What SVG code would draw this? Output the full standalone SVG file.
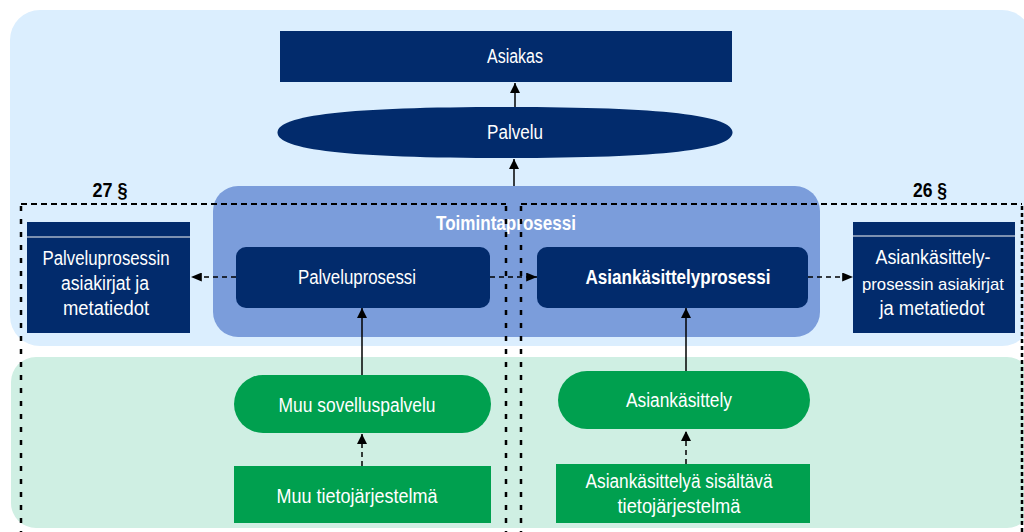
<svg xmlns="http://www.w3.org/2000/svg" width="1024" height="532" viewBox="0 0 1024 532">
  <defs>
    <marker id="arrow" viewBox="0 0 10 10" refX="10" refY="5" markerWidth="10" markerHeight="10" markerUnits="userSpaceOnUse" orient="auto">
      <path d="M0,0 L10,5 L0,10 z" fill="#000"/>
    </marker>
    <marker id="arrowWide" viewBox="0 0 12 10" refX="12" refY="5" markerWidth="12" markerHeight="9" markerUnits="userSpaceOnUse" orient="auto">
      <path d="M0,0 L12,5 L0,10 z" fill="#000"/>
    </marker>
  </defs>
  <style>
    .lbl { font-family: "Liberation Sans", Arial, sans-serif; font-size: 20px; fill: #fff; text-anchor: middle; }
    .bold { font-weight: bold; }
    .sect { font-family: "Liberation Sans", Arial, sans-serif; font-size: 20px; font-weight: bold; fill: #000; text-anchor: middle; }
    .navy { fill: #022b6c; }
    .green { fill: #00a04f; }
    .solid { stroke: #000; stroke-width: 1.5; fill: none; }
    .dash { stroke: #000; stroke-width: 1.5; fill: none; stroke-dasharray: 5 4; }
    .frameH { stroke: #000; stroke-width: 2; fill: none; stroke-dasharray: 6 4; }
    .frameV { stroke: #000; stroke-width: 2.5; fill: none; stroke-dasharray: 5 8; }
  </style>

  <!-- background bands -->
  <rect x="10" y="10" width="1022" height="336" rx="30" fill="#dbeefe"/>
  <rect x="11" y="357" width="1021" height="171" rx="25" fill="#cfefe3"/>

  <g id="toimintaprosessi">
    <rect x="213" y="186" width="607" height="151" rx="25" fill="#7b9ddb"/>
    <text class="lbl bold" x="506" y="230" textLength="140" lengthAdjust="spacingAndGlyphs">Toimintaprosessi</text>
  </g>

  <!-- legal section frames -->
  <g id="frames">
    <path class="frameH" d="M21,204 H506"/>
    <path class="frameV" d="M21,206 V532"/>
    <path class="frameV" d="M506,206 V532"/>
    <path class="frameH" d="M521,204 H1022"/>
    <path class="frameV" d="M521,206 V532"/>
    <path class="frameV" d="M1022,206 V532" style="stroke-dasharray:4 3"/>
    <text class="sect" x="110" y="197" textLength="35" lengthAdjust="spacingAndGlyphs">27 §</text>
    <text class="sect" x="930" y="197" textLength="34" lengthAdjust="spacingAndGlyphs">26 §</text>
  </g>

  <g id="asiakas">
    <rect class="navy" x="280" y="31" width="452" height="51"/>
    <text class="lbl" x="515" y="63" textLength="56" lengthAdjust="spacingAndGlyphs">Asiakas</text>
  </g>

  <g id="palvelu">
    <path class="navy" d="M277.5,132.5 C277.5,115.2 348,107 505,107 C662,107 732.5,115.2 732.5,132.5 C732.5,149.8 662,158 505,158 C348,158 277.5,149.8 277.5,132.5 Z"/>
    <text class="lbl" x="515" y="139" textLength="56" lengthAdjust="spacingAndGlyphs">Palvelu</text>
  </g>

  <g id="palveluprosessi">
    <rect class="navy" x="236" y="247" width="254" height="61" rx="10"/>
    <text class="lbl" x="357" y="284" textLength="118" lengthAdjust="spacingAndGlyphs">Palveluprosessi</text>
  </g>

  <g id="asiankasittelyprosessi">
    <rect class="navy" x="537" y="247" width="271" height="61" rx="10"/>
    <text class="lbl bold" x="678" y="284" textLength="185" lengthAdjust="spacingAndGlyphs">Asiankäsittelyprosessi</text>
  </g>

  <g id="palveluprosessin-asiakirjat">
    <rect class="navy" x="27" y="222" width="163" height="111"/>
    <line x1="27" y1="237" x2="190" y2="237" stroke="#a7b4c8" stroke-width="1.5"/>
    <text class="lbl" x="106" y="265" textLength="127" lengthAdjust="spacingAndGlyphs">Palveluprosessin</text>
    <text class="lbl" x="105" y="290" textLength="88" lengthAdjust="spacingAndGlyphs">asiakirjat ja</text>
    <text class="lbl" x="106" y="315" textLength="86" lengthAdjust="spacingAndGlyphs">metatiedot</text>
  </g>

  <g id="asiankasittelyprosessin-asiakirjat">
    <rect class="navy" x="853" y="222" width="162" height="111"/>
    <line x1="853" y1="236" x2="1015" y2="236" stroke="#a7b4c8" stroke-width="1.5"/>
    <text class="lbl" x="933" y="264" textLength="115" lengthAdjust="spacingAndGlyphs">Asiankäsittely-</text>
    <text class="lbl" x="933" y="290" style="font-size:17px" textLength="142" lengthAdjust="spacingAndGlyphs">prosessin asiakirjat</text>
    <text class="lbl" x="932" y="315" textLength="105" lengthAdjust="spacingAndGlyphs">ja metatiedot</text>
  </g>

  <g id="muu-sovelluspalvelu">
    <rect class="green" x="234" y="375" width="257" height="58" rx="29"/>
    <text class="lbl" x="357" y="412" textLength="157" lengthAdjust="spacingAndGlyphs">Muu sovelluspalvelu</text>
  </g>

  <g id="muu-tietojarjestelma">
    <rect class="green" x="234" y="466" width="257" height="57"/>
    <text class="lbl" x="357" y="503" textLength="161" lengthAdjust="spacingAndGlyphs">Muu tietojärjestelmä</text>
  </g>

  <g id="asiankasittely">
    <rect class="green" x="558" y="371" width="252" height="58" rx="29"/>
    <text class="lbl" x="679" y="407" textLength="106" lengthAdjust="spacingAndGlyphs">Asiankäsittely</text>
  </g>

  <g id="asiankasittelya-sisaltava-tietojarjestelma">
    <rect class="green" x="556" y="464" width="254" height="59"/>
    <text class="lbl" x="679" y="488" textLength="187" lengthAdjust="spacingAndGlyphs">Asiankäsittelyä sisältävä</text>
    <text class="lbl" x="679" y="513" textLength="123" lengthAdjust="spacingAndGlyphs">tietojärjestelmä</text>
  </g>

  <g id="connectors">
    <path class="solid" d="M515,107 V83" marker-end="url(#arrow)"/>
    <path class="solid" d="M514,186 V159" marker-end="url(#arrow)"/>
    <path class="dash" d="M236,277 H191" marker-end="url(#arrowWide)"/>
    <path class="dash" d="M490,277 H537" marker-end="url(#arrowWide)"/>
    <path class="dash" d="M808,277 H853" marker-end="url(#arrowWide)"/>
    <path class="solid" d="M362,375 V308" marker-end="url(#arrow)"/>
    <path class="solid" d="M686,371 V308" marker-end="url(#arrow)"/>
    <path class="dash" d="M362,466 V434" marker-end="url(#arrow)"/>
    <path class="dash" d="M686,464 V431" marker-end="url(#arrow)"/>
  </g>
</svg>
